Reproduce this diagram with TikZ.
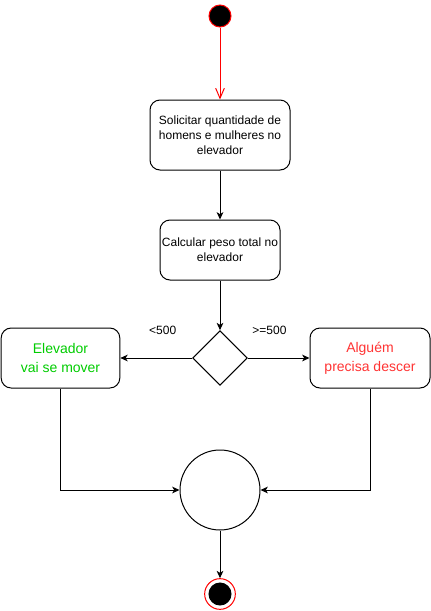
\documentclass[tikz,border=0pt]{standalone}
\usepackage{fontspec}
\setmainfont{Liberation Sans}
\usetikzlibrary{positioning,arrows.meta,shapes.geometric}
\definecolor{okgreen}{RGB}{0,204,0}
\definecolor{warnred}{RGB}{255,51,51}

\begin{document}
\begin{tikzpicture}[x=0.75pt,y=-0.75pt,every node/.style={draw=black,line width=0.75pt,align=center,font=\fontsize{9}{11.25}\selectfont},
	act/.style={rounded corners=7.5pt,inner sep=0pt},
	flow/.style={-{Stealth[length=5.5pt,width=5pt,inset=1.5pt]},line width=0.75pt}]
			\useasboundingbox (0,0) rectangle (431,611);
			\node [circle, fill=black, draw=red, minimum size=16.5pt, inner sep=0pt] (n0) at (220,16) {};
			\node [act, minimum width=105pt, minimum height=52.5pt] (n1) at (220,135) {Solicitar quantidade de\\homens e mulheres no\\elevador};
			\node [act, minimum width=90pt, minimum height=45pt] (n2) at (220,250) {Calcular peso total no\\elevador};
			\node [diamond, aspect=1, minimum size=41pt, inner sep=0pt] (n3) at (220,358) {};
			\node [act, minimum width=89pt, minimum height=45pt, text=okgreen, font=\fontsize{10.5}{14.25}\selectfont] (n4) at (60.5,358) {Elevador\\vai se mover};
			\node [act, minimum width=90pt, minimum height=45pt, text=warnred, font=\fontsize{10.5}{14.25}\selectfont] (n5) at (370,358) {Algu\'em\\precisa descer};
			\node [circle, minimum size=60pt, inner sep=0pt] (n6) at (220,490) {};
			\node [circle, draw=red, fill=white, minimum size=23pt, inner sep=0pt] (n7) at (220,594) {};
			\node [circle, fill=black, minimum size=16.5pt, inner sep=0pt] (n7in) at (n7) {};

			\draw[red,line width=0.75pt,-{Straight Barb[length=7.5pt,width=6.5pt]}] (n0) -- (n1);
			\draw[flow] (n1) -- (n2);
			\draw[flow] (n2) -- (n3);
			\draw[flow] (n3) -- node[draw=none, above=14pt, pos=.41] {<500} (n4);
			\draw[flow] (n3) -- node[draw=none, above=14pt, pos=.35] {>=500} (n5);
			\draw[flow] (n4) |- (n6);
			\draw[flow] (n5) |- (n6);
			\draw[flow] (n6) -- (n7);
		\end{tikzpicture}
\end{document}
